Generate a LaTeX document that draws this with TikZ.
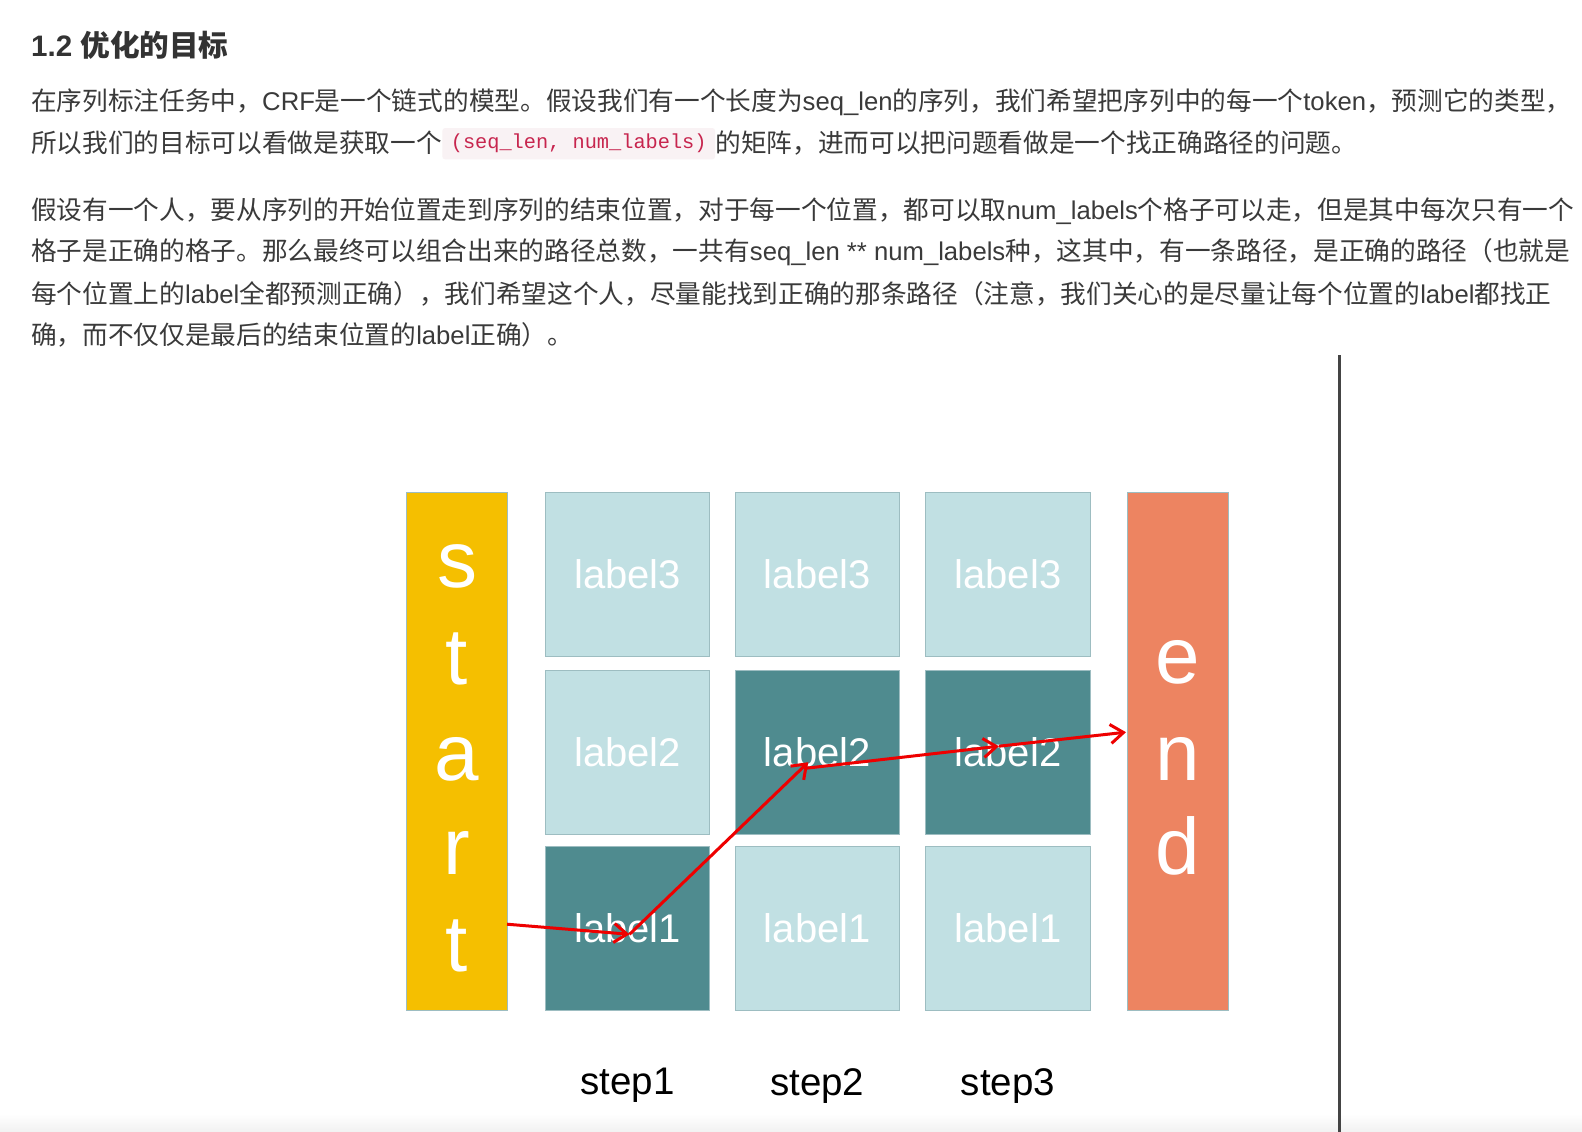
\documentclass[tikz,border=0pt]{standalone}
\usepackage{fontspec}
\setmainfont{Liberation Sans}
\newfontfamily\cjk{Noto Sans CJK SC}
\newfontfamily\monof{Liberation Mono}
\usetikzlibrary{arrows.meta,calc}
\newcommand\zhs[1]{{\cjk #1}}
\definecolor{txt}{HTML}{3A3A3A}
\definecolor{head}{HTML}{333333}
\definecolor{codebg}{HTML}{F9F2F4}
\definecolor{codefg}{HTML}{C7254E}
\definecolor{lightcell}{HTML}{C1E0E3}
\definecolor{darkcell}{HTML}{4F8B8F}
\definecolor{cellborder}{HTML}{9DBDC1}
\definecolor{startc}{HTML}{F5BF00}
\definecolor{endc}{HTML}{ED8461}
\definecolor{arrowred}{RGB}{238,0,0}
\definecolor{rule}{HTML}{444444}
\definecolor{band}{HTML}{F1F1F1}
\tikzset{
  body/.style={anchor=base west, inner sep=0pt, text=txt, font=\fontsize{25.67}{30}\selectfont},
  codebox/.style={fill=codebg, rounded corners=3pt, text=codefg, inner xsep=8.5pt, inner ysep=0pt,
    minimum height=31.4pt, font=\monof\fontsize{20.3}{24}\selectfont},
  cellbase/.style={minimum width=164.5pt, minimum height=164pt, inner sep=0pt, draw=cellborder,
    line width=1pt, text=white, font=\fontsize{40}{48}\selectfont},
  lightbox/.style={cellbase, fill=lightcell},
  darkbox/.style={cellbase, fill=darkcell},
  bar/.style={minimum width=101pt, minimum height=517.6pt, inner sep=0pt, draw=cellborder, line width=1pt},
  bigletter/.style={anchor=base, inner sep=0pt, text=white, font=\fontsize{80}{90}\selectfont},
  steplabel/.style={inner sep=0pt, text=black, font=\fontsize{38.5}{46}\selectfont},
  redarrow/.style={draw=arrowred, line width=3pt, -{Straight Barb[length=13pt,width=19pt]}}
}
\begin{document}
\begin{tikzpicture}[x=1pt,y=-1pt]
\fill[white] (0,0) rectangle (1582,1132);
\useasboundingbox (0,0) rectangle (1582,1132);
\shade[top color=white, bottom color=band] (0,1114) rectangle (1582,1132);

% heading
\node[anchor=base west, inner sep=0pt, text=head, font=\fontsize{29.6}{34}\selectfont\bfseries] (h) at (31,56.3) {1.2 \zhs{优化的目标}};

% paragraph 1
\node[body] (l1) at (31,110.5) {\zhs{在序列标注任务中，}CRF\zhs{是一个链式的模型。假设我们有一个长度为}seq\_len\zhs{的序列，我们希望把序列中的每一个}token\zhs{，预测它的类型，}};
\node[body] (l2a) at (31,152.8) {\zhs{所以我们的目标可以看做是获取一个}};
\coordinate (r2) at (0,143.7);
\node[codebox, anchor=west] (code) at (l2a.east |- r2) {(seq\_len, num\_labels)};
\node[body] (l2b) at (code.east |- l2a.base) {\zhs{的矩阵，进而可以把问题看做是一个找正确路径的问题。}};

% paragraph 2
\node[body] (l3) at (31,219.5) {\zhs{假设有一个人，要从序列的开始位置走到序列的结束位置，对于每一个位置，都可以取}num\_labels\zhs{个格子可以走，但是其中每次只有一个}};
\node[body] (l4) at (31,260.7) {\zhs{格子是正确的格子。那么最终可以组合出来的路径总数，一共有}seq\_len ** num\_labels\zhs{种，这其中，有一条路径，是正确的路径（也就是}};
\node[body] (l5) at (31,303) {\zhs{每个位置上的}label\zhs{全都预测正确），我们希望这个人，尽量能找到正确的那条路径（注意，我们关心的是尽量让每个位置的}label\zhs{都找正}};
\node[body] (l6) at (31,344.5) {\zhs{确，而不仅仅是最后的结束位置的}label\zhs{正确）。}};

% vertical rule
\draw[rule, line width=2.4pt] (1339.5,355) -- (1339.5,1132);

% start / end bars
\node[bar, fill=startc] (start) at (457,751.2) {};
\node[bar, fill=endc] (end) at (1177.5,751.2) {};
\node[bigletter] (st1) at (457,587) {s};
\node[bigletter] (st2) at (457,684) {t};
\node[bigletter] (st3) at (457,780) {a};
\node[bigletter] (st4) at (457,874) {r};
\node[bigletter] (st5) at (457,971) {t};
\node[bigletter] (en1) at (1177.5,683) {e};
\node[bigletter] (en2) at (1177.5,780) {n};
\node[bigletter] (en3) at (1177.5,874) {d};

% grid cells
\node[lightbox] (c13) at (627.5,574.6) {label3};
\node[lightbox] (c12) at (627.5,752.2) {label2};
\node[darkbox]  (c11) at (627.5,928.3) {label1};
\node[lightbox] (c23) at (817.3,574.6) {label3};
\node[darkbox]  (c22) at (817.3,752.2) {label2};
\node[lightbox] (c21) at (817.3,928.3) {label1};
\node[lightbox] (c33) at (1007.9,574.6) {label3};
\node[darkbox]  (c32) at (1007.9,752.2) {label2};
\node[lightbox] (c31) at (1007.9,928.3) {label1};

% step labels
\node[steplabel] (s1) at (627.5,1085.6) {step1};
\node[steplabel] (s2) at (817.3,1085.6) {step2};
\node[steplabel] (s3) at (1007.9,1085.6) {step3};

% path
\coordinate (p0) at ($(start.east)+(-1,173)$);
\coordinate (p1) at ($(c11.center)+(2,6)$);
\coordinate (p2) at ($(c22.center)+(-9,10)$);
\coordinate (p2b) at ($(c22.center)+(-11,16)$);
\coordinate (p3) at ($(c32.center)+(-9,-6)$);
\coordinate (p4) at ($(end.west)+(-0.5,-19)$);
\draw[redarrow] (p0) -- (p1);
\draw[redarrow] (p1) -- (p2);
\draw[redarrow] (p2b) -- (p3);
\draw[redarrow] (p3) -- (p4);
\end{tikzpicture}
\end{document}
